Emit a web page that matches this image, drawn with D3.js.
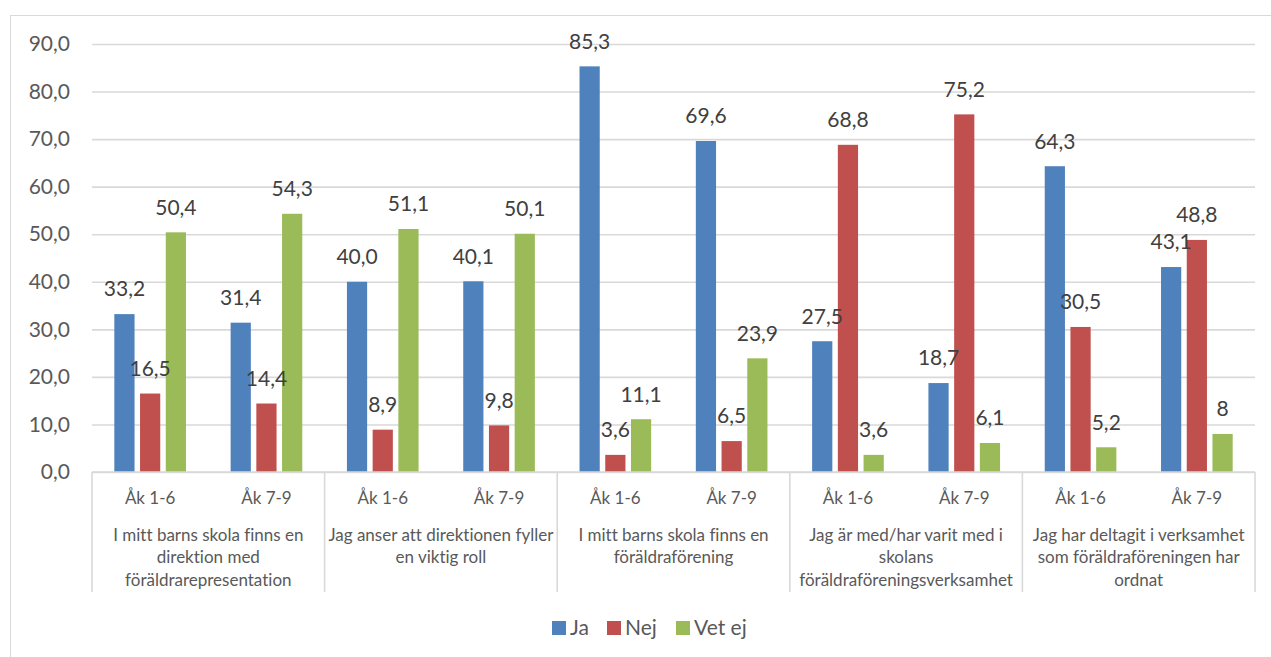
<!DOCTYPE html>
<html>
<head>
<meta charset="utf-8">
<script src="https://cdn.jsdelivr.net/npm/d3@7"></script>
<style>
  html, body { margin: 0; padding: 0; background: #fff; }
  svg { display: block; font-family: Lato, "Open Sans", sans-serif; font-variant-ligatures: none; }
</style>
</head>
<body>
<svg id="chart" width="1271" height="657"></svg>
<script>
// ---- data ----
const groups = [
  ["I mitt barns skola finns en", "direktion med", "föräldrarepresentation"],
  ["Jag anser att direktionen fyller", "en viktig roll"],
  ["I mitt barns skola finns en", "föräldraförening"],
  ["Jag är med/har varit med i", "skolans", "föräldraföreningsverksamhet"],
  ["Jag har deltagit i verksamhet", "som föräldraföreningen har", "ordnat"]
];
const subcategories = ["Åk 1-6", "Åk 7-9"];
const seriesNames = ["Ja", "Nej", "Vet ej"];
const seriesColors = ["#4F81BD", "#C0504D", "#9BBB59"];
const ja    = [33.2, 31.4, 40.0, 40.1, 85.3, 69.6, 27.5, 18.7, 64.3, 43.1];
const nej   = [16.5, 14.4, 8.9, 9.8, 3.6, 6.5, 68.8, 75.2, 30.5, 48.8];
const vetEj = [50.4, 54.3, 51.1, 50.1, 11.1, 23.9, 3.6, 6.1, 5.2, 8];
const vetEjLabels = ["50,4", "54,3", "51,1", "50,1", "11,1", "23,9", "3,6", "6,1", "5,2", "8"];
const yTicks = [0, 10, 20, 30, 40, 50, 60, 70, 80, 90];

// ---- layout ----
const svg = d3.select("#chart");
const pLeft = 92, pRight = 1255, pTop = 44, pBottom = 472;
const textColor = "#595959", gridColor = "#D9D9D9";

const fmt = v => d3.format(".1f")(v).replace(".", ",");
const seriesValues = [ja, nej, vetEj];
const seriesLabels = [ja.map(fmt), nej.map(fmt), vetEjLabels];

// outer border
svg.append("rect").attr("x", 10.5).attr("y", 15.5).attr("width", 1280).attr("height", 700)
  .attr("fill", "none").attr("stroke", gridColor).attr("stroke-width", 1);

const y = d3.scaleLinear().domain([0, 90]).range([pBottom, pTop]);
const slots = d3.range(groups.length * subcategories.length);
const x = d3.scaleBand().domain(slots).range([pLeft, pRight]).paddingInner(0).paddingOuter(0);
const bw = x.bandwidth();
const xs = d3.scaleBand().domain(seriesNames)
  .range([bw * 0.192, bw * 0.808]).paddingInner(0.214).paddingOuter(0);

// gridlines + tick labels
const yAxis = d3.axisLeft(y).tickValues(yTicks).tickFormat(fmt).tickSize(-(pRight - pLeft)).tickPadding(22);
const gy = svg.append("g").attr("transform", `translate(${pLeft},0)`).call(yAxis);
gy.select(".domain").remove();
gy.selectAll(".tick line").attr("stroke", gridColor).attr("stroke-width", 1.6);
gy.selectAll(".tick text").attr("fill", textColor).style("font-size", "21px")
  .style("font-family", "Lato, 'Open Sans', sans-serif");

// bars
seriesNames.forEach((s, si) => {
  const g = svg.append("g");
  g.selectAll("rect").data(seriesValues[si]).join("rect")
    .attr("x", (d, i) => x(i) + xs(s))
    .attr("y", d => y(d))
    .attr("width", xs.bandwidth())
    .attr("height", d => pBottom - y(d))
    .attr("fill", seriesColors[si]);
});

// data labels
seriesNames.forEach((s, si) => {
  svg.append("g").selectAll("text").data(seriesValues[si]).join("text")
    .attr("x", (d, i) => x(i) + xs(s) + xs.bandwidth() / 2)
    .attr("y", d => y(d) - 25)
    .attr("dy", "0.35em")
    .attr("text-anchor", "middle")
    .attr("fill", "#404040")
    .style("font-size", "21px")
    .text((d, i) => seriesLabels[si][i]);
});

// category axis line
svg.append("line").attr("x1", pLeft).attr("x2", pRight).attr("y1", pBottom).attr("y2", pBottom)
  .attr("stroke", gridColor).attr("stroke-width", 1.6);

// group separators
const groupW = bw * subcategories.length;
d3.range(groups.length + 1).forEach(i => {
  svg.append("line")
    .attr("x1", pLeft + i * groupW).attr("x2", pLeft + i * groupW)
    .attr("y1", pBottom).attr("y2", 592)
    .attr("stroke", gridColor).attr("stroke-width", 1.6);
});

// subcategory labels
svg.append("g").selectAll("text").data(slots).join("text")
  .attr("x", d => x(d) + bw / 2)
  .attr("y", 498).attr("dy", "0.35em")
  .attr("text-anchor", "middle").attr("fill", textColor)
  .style("font-size", "17px")
  .text(d => subcategories[d % subcategories.length]);

// group labels
groups.forEach((lines, gi) => {
  const cx = pLeft + gi * groupW + groupW / 2;
  const t = svg.append("text")
    .attr("x", cx).attr("y", 535).attr("text-anchor", "middle").attr("fill", textColor)
    .style("font-size", "17px");
  lines.forEach((ln, li) => {
    t.append("tspan").attr("x", cx)
      .attr("y", 535 + li * 22.5).attr("dy", "0.35em").text(ln);
  });
});

// legend
const legendX = [552, 607, 676];
seriesNames.forEach((s, si) => {
  svg.append("rect").attr("x", legendX[si]).attr("y", 621).attr("width", 14).attr("height", 14)
    .attr("fill", seriesColors[si]);
  svg.append("text").attr("x", legendX[si] + 18).attr("y", 628).attr("dy", "0.35em")
    .attr("fill", textColor).style("font-size", "21px").text(s);
});
</script>
</body>
</html>
